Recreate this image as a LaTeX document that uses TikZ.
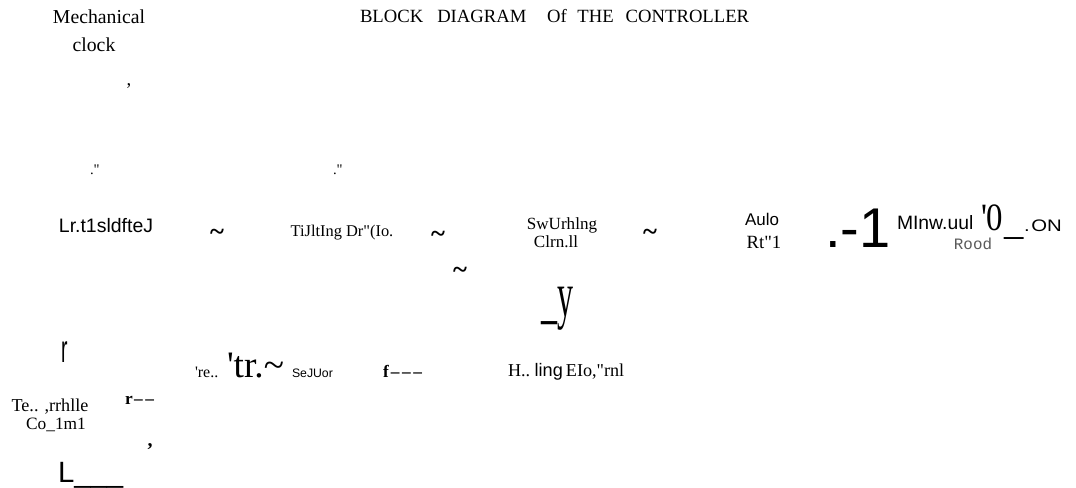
\documentclass[tikz,border=0pt]{standalone}
\usepackage{fontspec}
\usepackage{graphicx}
\setmainfont{Liberation Serif}
\newfontfamily\arialf{Liberation Sans}
\newfontfamily\monof{Liberation Mono}
\definecolor{roodgray}{HTML}{5A5A5A}
\tikzset{
  txt/.style={inner sep=0pt, outer sep=0pt, anchor=base, text=black},
  tld/.style={txt, font=\bfseries\fontsize{20}{22}\selectfont},
}
\newcommand{\tq}{\textquotesingle}
\newcommand{\tld}{\textasciitilde}
\newcommand{\dq}{\textquotedbl}
\begin{document}
\begin{tikzpicture}[x=0.75pt,y=-0.75pt]
\useasboundingbox (0,0) rectangle (1076,488);
% top
\node[txt, font=\fontsize{14.8}{16}\selectfont] (mech) at (99,24) {Mechanical};
\node[txt, font=\fontsize{14.8}{16}\selectfont] (clock) at (94,52) {clock};
\node[txt, anchor=base west, font=\fontsize{14}{16}\selectfont] (title) at (360,23)
  {BLOCK\hspace{10.5pt}DIAGRAM\hspace{15.5pt}Of\hspace{8pt}THE\hspace{9pt}CONTROLLER};
\node[txt, font=\fontsize{14}{16}\selectfont] (comma1) at (129,86) {,};
\node[txt, anchor=base west, font=\fontsize{11}{12}\selectfont] (q1) at (90,175) {.\dq};
\node[txt, anchor=base west, font=\fontsize{11}{12}\selectfont] (q2) at (333,175) {.\dq};
% row 1
\node[txt, font=\arialf\fontsize{14.6}{16}\selectfont] (lr) at (106,233) {Lr.t1sldfteJ};
\node[tld] (t1) at (217,241) {\tld};
\node[txt, font=\fontsize{12.3}{14}\selectfont] (tilt) at (342,237) {TiJltIng Dr\dq(Io.};
\node[tld] (t2) at (438,243) {\tld};
\node[txt, font=\fontsize{12.8}{14}\selectfont] (sw) at (562,230) {SwUrhlng};
\node[txt, font=\fontsize{12.8}{14}\selectfont] (clrn) at (556,248) {Clrn.ll};
\node[tld] (t3) at (650,241) {\tld};
\node[txt, font=\arialf\fontsize{12.7}{14}\selectfont] (aulo) at (762,226) {Aulo};
\node[txt, font=\fontsize{14}{16}\selectfont] (rt) at (764,249) {Rt\dq1};
\node[txt, anchor=base west, font=\arialf\fontsize{42}{44}\selectfont] (one) at (825,248) {.-1};
\node[txt, anchor=base west, font=\arialf\fontsize{14.5}{16}\selectfont] (minw) at (897,230) {MInw.uul};
\node[txt, anchor=base west, font=\fontsize{29}{30}\selectfont] (zero) at (981,231)
  {\scalebox{0.85}[1]{\tq0}\hspace{1pt}\raisebox{-3pt}{\_}};
\node[txt, anchor=base west, font=\arialf\fontsize{12.5}{14}\selectfont] (on) at (1024,232)
  {\scalebox{1.22}[1]{.\hspace{1pt}ON}};
\node[txt, text=roodgray, font=\monof\fontsize{11.9}{13}\selectfont] (rood) at (973,250) {Rood};
\node[tld] (t4) at (460,279) {\tld};
\node[txt, anchor=base west, font=\fontsize{48}{50}\selectfont] (y) at (541,317) {\scalebox{0.5}[1]{\_y}};
% row 2
\node[txt, font=\arialf\fontsize{29}{31}\selectfont] (r) at (65,363) {\scalebox{0.5}[1]{r}};
\node[txt, anchor=base west, font=\fontsize{12}{14}\selectfont] (re) at (195,378) {\tq re..};
\node[txt, anchor=base west, font=\fontsize{28}{30}\selectfont] (tr) at (227,378) {\tq tr.\tld};
\node[txt, anchor=base west, font=\arialf\fontsize{9.2}{10}\selectfont] (sensor) at (292,378) {SeJUor};
\node[txt, anchor=base west, font=\bfseries\fontsize{13}{15}\selectfont] (f) at (383,378)
  {f\hspace{1.5pt}\textendash\hspace{2pt}\textendash\hspace{2pt}\textendash};
\node[txt, anchor=base west, font=\fontsize{13.6}{15}\selectfont] (h) at (508,377) {H..\ {\arialf ling}\,EIo,\dq rnl};
\node[txt, font=\fontsize{13.6}{15}\selectfont] (te) at (50,412) {Te.. ,rrhlle};
\node[txt, font=\fontsize{13}{15}\selectfont] (co) at (56,430) {Co\_1m1};
\node[txt, anchor=base west, font=\bfseries\fontsize{13}{15}\selectfont] (rr) at (125,405)
  {r\hspace{1pt}\textendash\hspace{2pt}\textendash};
\node[txt, font=\bfseries\fontsize{15}{17}\selectfont] (comma2) at (150,447) {,};
\node[txt, anchor=base west, font=\arialf\fontsize{22}{24}\selectfont] (L) at (58,483) {L\_\_\_};
\end{tikzpicture}
\end{document}
